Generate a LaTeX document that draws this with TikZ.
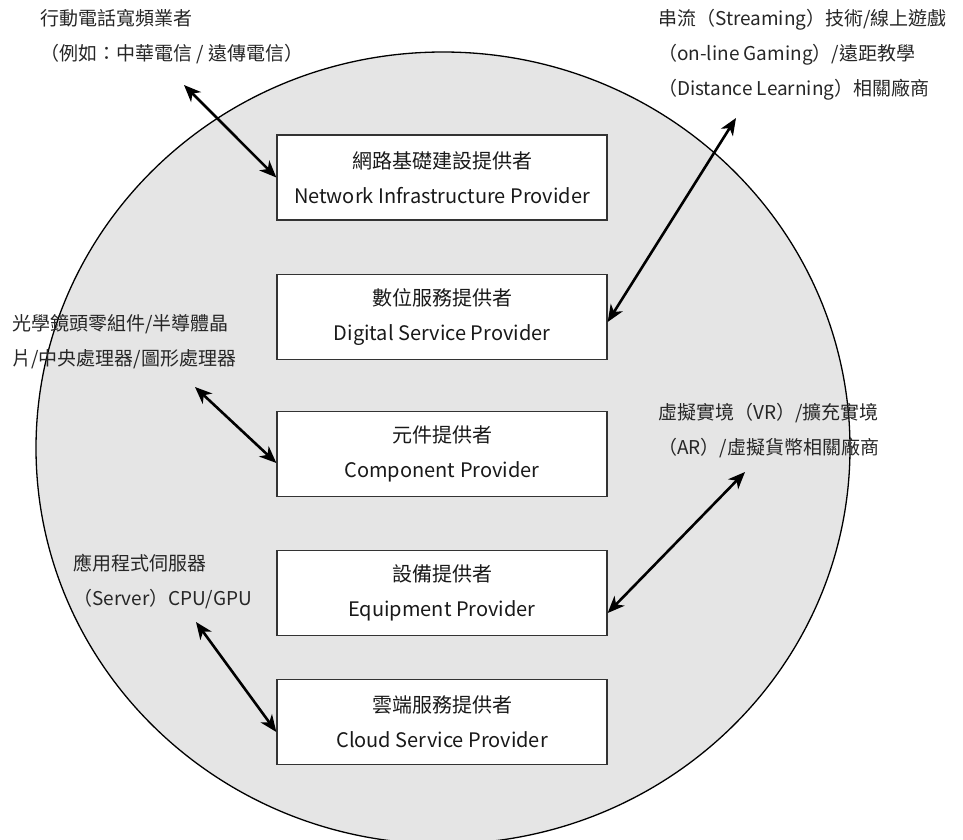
\documentclass[tikz,border=0pt]{standalone}
\usepackage{fontspec}
\setmainfont{Noto Sans CJK TC}
\usetikzlibrary{arrows.meta,calc}
\begin{document}
\begin{tikzpicture}[x=1pt,y=-1pt,
  prov/.style={draw=black!80, line width=1.3pt, fill=white, minimum width=330pt, minimum height=85pt, inner sep=0pt, align=center, font=\fontsize{20}{35}\selectfont, text=black!90},
  lbl/.style={anchor=west, inner sep=0pt, align=left, font=\fontsize{19}{35}\selectfont, text=black!85},
  biarrow/.style={line width=2.6pt, {Stealth[length=17pt,width=14pt,inset=5pt]}-{Stealth[length=17pt,width=14pt,inset=5pt]}},
]
\useasboundingbox (0,0) rectangle (963,839);
\draw[fill=gray!20, line width=1.3pt] (443,448) ellipse [x radius=407, y radius=396];

\node[prov] (net) at (442,177.5) {網路基礎建設提供者\\Network Infrastructure Provider};
\node[prov] (dig) at (442,317) {數位服務提供者\\Digital Service Provider};
\node[prov] (comp) at (442,454) {元件提供者\\Component Provider};
\node[prov] (equ) at (442,593) {設備提供者\\Equipment Provider};
\node[prov] (cloud) at (442,722) {雲端服務提供者\\Cloud Service Provider};

\node[lbl] (l1) at (40,37) {行動電話寬頻業者\\（例如：中華電信 / 遠傳電信）};
\node[lbl] (l2) at (658,54.5) {串流（Streaming）技術/線上遊戲\\（on-line Gaming）/遠距教學\\（Distance Learning）相關廠商};
\node[lbl] (l3) at (12,341.5) {光學鏡頭零組件/半導體晶\\片/中央處理器/圖形處理器};
\node[lbl] (l4) at (658,430.5) {虛擬實境（VR）/擴充實境\\（AR）/虛擬貨幣相關廠商};
\node[lbl] (l5) at (73,581.5) {應用程式伺服器\\（Server）CPU/GPU};

\coordinate (a1) at (184,85);
\coordinate (a2) at (736,118);
\coordinate (a3) at (195,387);
\coordinate (a4) at (745,472);
\coordinate (a5) at (196,622);
\draw[biarrow] (a1) -- (net.west);
\draw[biarrow] (a2) -- ($(dig.east)+(0,5)$);
\draw[biarrow] (a3) -- ($(comp.west)+(0,9)$);
\draw[biarrow] (a4) -- ($(equ.east)+(0,20)$);
\draw[biarrow] (a5) -- ($(cloud.west)+(0,10)$);
\end{tikzpicture}
\end{document}
